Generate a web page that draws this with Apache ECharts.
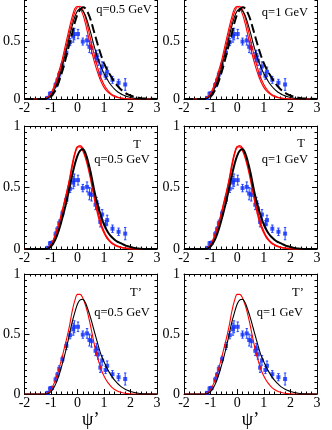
<!DOCTYPE html>
<html><head><meta charset="utf-8">
<script src="https://cdn.jsdelivr.net/npm/echarts@6/dist/echarts.min.js"></script>
<style>html,body{margin:0;padding:0;background:#fff;overflow:hidden;width:332px;height:430px}#c{position:absolute;left:0;top:-24px;width:332px;height:454px}</style>
</head><body><div id="c"></div>
<script>
// sampling positions of the curves (psi')
const PSI = [-2,-1.3,-1.2,-1.1,-1.0,-0.9,-0.8,-0.7,-0.6,-0.5,-0.4,-0.3,-0.2,-0.1,0,0.1,0.2,0.3,0.4,0.5,0.6,0.7,0.8,0.9,1.0,1.1,1.2,1.3,1.4,1.5,1.6,1.7,1.8,1.9,2.0,2.1,2.2,2.3,2.4,2.5,3];

// experimental points
const dataPsi = [-1.12,-1.04,-0.96,-0.83,-0.76,-0.69,-0.57,-0.42,-0.28,-0.16,-0.12,0.02,0.20,0.36,0.45,0.53,0.68,0.72,0.78,0.86,0.93,1.06,1.12,1.32,1.55,1.80];
const dataF   = [0.01,0.045,0.05,0.12,0.16,0.21,0.29,0.40,0.49,0.54,0.56,0.56,0.495,0.505,0.45,0.44,0.36,0.38,0.33,0.22,0.28,0.20,0.235,0.165,0.14,0.125];
const dataErr = [0.01,0.015,0.015,0.02,0.02,0.025,0.025,0.03,0.03,0.05,0.05,0.04,0.03,0.04,0.05,0.05,0.04,0.04,0.04,0.04,0.04,0.03,0.04,0.03,0.03,0.05];

// top row curves
const redTopA   = [0,0,0.005,0.02,0.05,0.10,0.16,0.24,0.32,0.42,0.52,0.62,0.71,0.78,0.80,0.78,0.73,0.65,0.55,0.45,0.35,0.27,0.20,0.145,0.10,0.07,0.048,0.032,0.021,0.014,0.009,0.005,0.003,0.001,0,0,0,0,0,0,0];
const redTopB   = [0,0,0.003,0.015,0.04,0.085,0.14,0.21,0.29,0.38,0.48,0.58,0.67,0.75,0.795,0.80,0.77,0.70,0.61,0.51,0.41,0.32,0.24,0.175,0.125,0.088,0.06,0.04,0.027,0.018,0.011,0.007,0.004,0.002,0.001,0,0,0,0,0,0];
const blackTop  = [0,0,0,0.01,0.03,0.065,0.115,0.18,0.26,0.35,0.44,0.54,0.63,0.71,0.76,0.78,0.76,0.72,0.65,0.57,0.48,0.40,0.33,0.27,0.22,0.18,0.14,0.11,0.085,0.065,0.05,0.037,0.027,0.019,0.013,0.008,0.005,0.003,0.001,0,0];
const dashTop   = [0,0,0,0.005,0.02,0.05,0.09,0.15,0.22,0.30,0.39,0.48,0.57,0.66,0.73,0.77,0.79,0.78,0.74,0.68,0.60,0.52,0.44,0.37,0.31,0.26,0.22,0.18,0.145,0.115,0.09,0.07,0.053,0.04,0.03,0.022,0.016,0.011,0.007,0.005,0];
// middle row curves (T)
const redMidA   = [0,0,0,0.01,0.035,0.08,0.14,0.21,0.29,0.38,0.47,0.57,0.69,0.78,0.83,0.83,0.80,0.74,0.66,0.56,0.45,0.34,0.25,0.18,0.13,0.09,0.065,0.045,0.032,0.022,0.015,0.01,0.007,0.004,0.002,0.001,0,0,0,0,0];
const redMidB   = [0,0,0,0.008,0.03,0.075,0.13,0.20,0.28,0.37,0.46,0.56,0.67,0.77,0.83,0.84,0.82,0.76,0.69,0.59,0.48,0.37,0.28,0.20,0.145,0.10,0.072,0.05,0.036,0.025,0.017,0.011,0.008,0.005,0.003,0.001,0,0,0,0,0];
const blackMid  = [0,0,0,0.005,0.02,0.05,0.095,0.155,0.23,0.31,0.40,0.50,0.60,0.69,0.76,0.80,0.81,0.78,0.71,0.62,0.51,0.41,0.33,0.26,0.20,0.155,0.12,0.095,0.075,0.06,0.05,0.04,0.03,0.022,0.016,0.011,0.007,0.004,0.002,0.001,0];
// bottom row curves (T')
const redBot    = [0,0,0,0.01,0.035,0.08,0.14,0.21,0.29,0.38,0.47,0.57,0.69,0.78,0.83,0.83,0.80,0.74,0.66,0.56,0.45,0.35,0.27,0.20,0.15,0.11,0.08,0.055,0.038,0.025,0.016,0.01,0.006,0.003,0.001,0,0,0,0,0,0];
const blackBot  = [0,0,0,0.005,0.02,0.05,0.095,0.155,0.23,0.31,0.40,0.50,0.60,0.68,0.75,0.785,0.79,0.76,0.70,0.63,0.55,0.47,0.39,0.32,0.27,0.22,0.18,0.145,0.115,0.09,0.07,0.053,0.04,0.03,0.021,0.015,0.01,0.006,0.003,0.001,0];

const X_MIN = -2, X_MAX = 3, Y_MIN = 0, Y_MAX = 1;
const panelText = [
  ['q=0.5 GeV'], ['q=1 GeV'],
  ['T','q=0.5 GeV'], ['T','q=1 GeV'],
  ['T\u2019','q=0.5 GeV'], ['T\u2019','q=1 GeV']
];
const xName = '\u03c8\u2019';

const FONT = '"Liberation Serif","DejaVu Serif",serif';
const OFF = 24; // chart canvas starts 24px above the visible window
const lefts = [23, 184], widths = [134, 133];
const tops = [0, 150, 298], H = 123;

const curveSets = [
  [{d:redTopA,c:'#ff0000',w:1.1},{d:redTopB,c:'#ff0000',w:1.1},{d:blackTop,c:'#000',w:1.1},{d:dashTop,c:'#000',w:2,dash:[9,4]}],
  [{d:redTopA,c:'#ff0000',w:1.1},{d:redTopB,c:'#ff0000',w:1.1},{d:blackTop,c:'#000',w:1.1},{d:dashTop,c:'#000',w:2,dash:[9,4]}],
  [{d:redMidA,c:'#ff0000',w:1.3},{d:redMidB,c:'#ff0000',w:1.3},{d:blackMid,c:'#000',w:2}],
  [{d:redMidA,c:'#ff0000',w:1.3},{d:redMidB,c:'#ff0000',w:1.3},{d:blackMid,c:'#000',w:2}],
  [{d:redBot,c:'#ff0000',w:1.1},{d:blackBot,c:'#000',w:1.1}],
  [{d:redBot,c:'#ff0000',w:1.1},{d:blackBot,c:'#000',w:1.1}]
];

const grid=[], xAxis=[], yAxis=[], series=[], graphic=[];
const pts = dataPsi.map((p,i)=>[p,dataF[i],dataErr[i]]);
for (let i=0;i<6;i++){
  const r = Math.floor(i/2), c = i%2;
  grid.push({left:lefts[c], top:tops[r], width:widths[c], height:H, containLabel:false});
  const tickBase = {show:true, inside:true, length:5, lineStyle:{color:'#000',width:1}};
  const minorBase = {show:true, length:2.5, lineStyle:{color:'#000',width:1}};
  xAxis.push({type:'value', gridIndex:i, min:X_MIN, max:X_MAX, interval:1, position:'bottom',
    axisLine:{onZero:false, lineStyle:{color:'#000',width:1}}, axisTick:tickBase, minorTick:Object.assign({splitNumber:5},minorBase),
    splitLine:{show:false}, minorSplitLine:{show:false},
    axisLabel:{fontFamily:FONT, fontSize:14, color:'#000', margin:2},
    name: r===2 ? xName : '', nameLocation:'middle', nameGap:17, nameTextStyle:{fontFamily:FONT, fontSize:18, color:'#000'}});
  xAxis.push({type:'value', gridIndex:i, min:X_MIN, max:X_MAX, interval:1, position:'top',
    axisLine:{onZero:false, lineStyle:{color:'#000',width:1}}, axisTick:tickBase, minorTick:Object.assign({splitNumber:5},minorBase),
    splitLine:{show:false}, axisLabel:{show:false}});
  yAxis.push({type:'value', gridIndex:i, min:Y_MIN, max:Y_MAX, interval:0.5, position:'left',
    axisLine:{onZero:false, lineStyle:{color:'#000',width:1}}, axisTick:tickBase, minorTick:Object.assign({splitNumber:10},minorBase),
    splitLine:{show:false}, axisLabel:{fontFamily:FONT, fontSize:14, color:'#000', margin:4}});
  yAxis.push({type:'value', gridIndex:i, min:Y_MIN, max:Y_MAX, interval:0.5, position:'right',
    axisLine:{onZero:false, lineStyle:{color:'#000',width:1}}, axisTick:tickBase, minorTick:Object.assign({splitNumber:10},minorBase),
    splitLine:{show:false}, axisLabel:{show:false}});
  const xi = i*2, yi = i*2;
  curveSets[i].forEach(cv=>{
    series.push({type:'line', xAxisIndex:xi, yAxisIndex:yi, data:PSI.map((p,k)=>[p,cv.d[k]]),
      showSymbol:false, smooth:0.35, silent:true, animation:false,
      lineStyle:{color:cv.c, width:cv.w, type: cv.dash ? cv.dash : 'solid'}});
  });
  series.push({type:'custom', xAxisIndex:xi, yAxisIndex:yi, data:pts, animation:false, silent:true,
    renderItem:(params, api)=>{
      const x=api.value(0), y=api.value(1), e=api.value(2);
      const t=api.coord([x,y+e]), b=api.coord([x,y-e]);
      return {type:'group', children:[
        {type:'line', shape:{x1:t[0],y1:t[1],x2:b[0],y2:b[1]}, style:{stroke:'#2244ff',lineWidth:1}},
        {type:'line', shape:{x1:t[0]-1.2,y1:t[1],x2:t[0]+1.2,y2:t[1]}, style:{stroke:'#2244ff',lineWidth:1}},
        {type:'line', shape:{x1:b[0]-1.2,y1:b[1],x2:b[0]+1.2,y2:b[1]}, style:{stroke:'#2244ff',lineWidth:1}}
      ]};
    }});
  series.push({type:'scatter', xAxisIndex:xi, yAxisIndex:yi, data:pts.map(p=>[p[0],p[1]]), symbol:'rect', symbolSize:4,
    itemStyle:{color:'#1030ff'}, animation:false, silent:true});
}
// panel annotations (visible-window coordinates)
const txtPos = [
  [[124,10]], [[285,13]],
  [[137,145],[122,160]], [[301,144],[285,160]],
  [[136,293],[122,313]], [[298,293],[280,313]]
];
panelText.forEach((arr,i)=>arr.forEach((t,k)=>{
  graphic.push({type:'text', x:txtPos[i][k][0], y:txtPos[i][k][1]+OFF,
    style:{text:t, fill:'#000', font:'12.5px '+FONT, textAlign:'center', textVerticalAlign:'middle'}});
}));

const chart = echarts.init(document.getElementById('c'), null, {renderer:'canvas'});
chart.setOption({animation:false, grid, xAxis, yAxis, series, graphic});
</script></body></html>
